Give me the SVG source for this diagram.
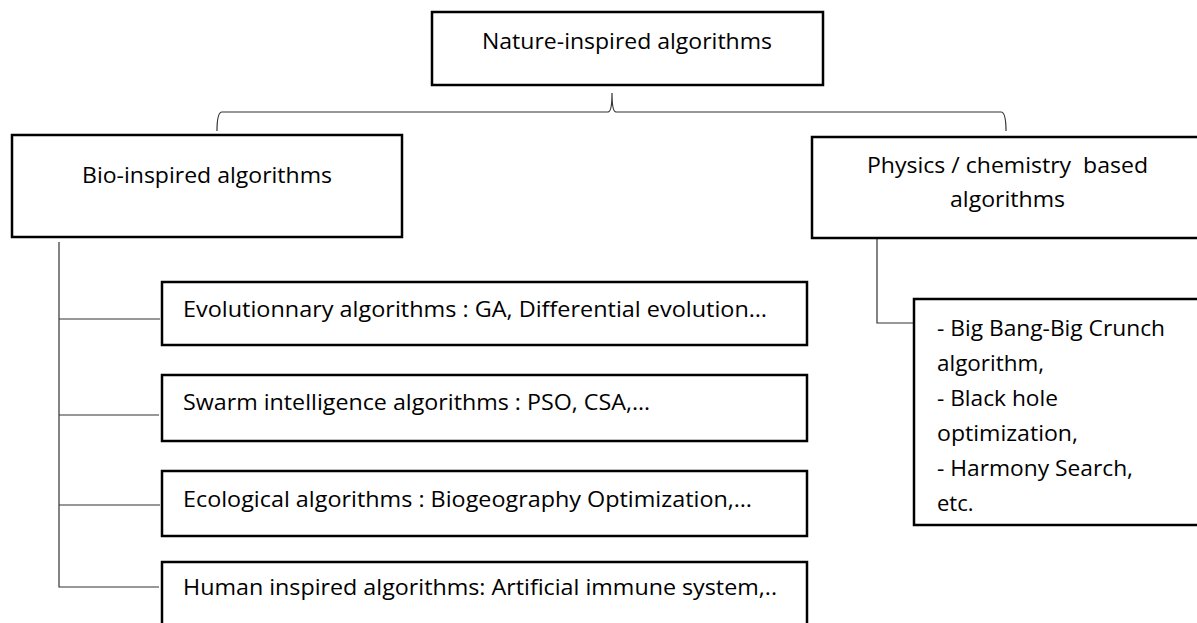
<svg xmlns="http://www.w3.org/2000/svg" width="1197" height="623" viewBox="0 0 1197 623">
<style>
.box{fill:#fff;stroke:#000;stroke-width:2.5}
.t{font-family:"Open Sans","Noto Sans","Liberation Sans",sans-serif;font-size:22px;fill:#000}
.c{fill:none;stroke:#333;stroke-width:1.2}
</style>
<rect width="1197" height="623" fill="#fff"/>
<g id="connectors">
<path class="c" d="M217,131 Q217,112 222,112 L608,112 Q612,112 612,93 Q612,112 616,112 L1001,112 Q1006,112 1006,131"/>
<path class="c" d="M59,242 L59,587 L159,587 M59,319 L160,319 M59,415 L159,415 M59,505 L160,505"/>
<path class="c" d="M877,238 L877,323 L913,323"/>
</g>
<g id="nature">
<rect class="box" x="432" y="12" width="391" height="73"/>
<text class="t" x="482" y="49" textLength="290" lengthAdjust="spacingAndGlyphs">Nature-inspired algorithms</text>
</g>
<g id="bio">
<rect class="box" x="12" y="135" width="390" height="102"/>
<text class="t" x="82" y="183" textLength="250" lengthAdjust="spacingAndGlyphs">Bio-inspired algorithms</text>
</g>
<g id="physics">
<rect class="box" x="812" y="137" width="400" height="101"/>
<text class="t" x="867" y="173" textLength="281" lengthAdjust="spacingAndGlyphs" xml:space="preserve">Physics / chemistry  based</text>
<text class="t" x="950" y="207" textLength="115" lengthAdjust="spacingAndGlyphs">algorithms</text>
</g>
<g id="evolutionary">
<rect class="box" x="162" y="282" width="645" height="63"/>
<text class="t" x="183" y="317" textLength="584" lengthAdjust="spacingAndGlyphs">Evolutionnary algorithms : GA, Differential evolution…</text>
</g>
<g id="swarm">
<rect class="box" x="162" y="375" width="645" height="66"/>
<text class="t" x="183" y="410" textLength="467" lengthAdjust="spacingAndGlyphs">Swarm intelligence algorithms : PSO, CSA,…</text>
</g>
<g id="ecological">
<rect class="box" x="162" y="471" width="645" height="65"/>
<text class="t" x="183" y="507" textLength="569" lengthAdjust="spacingAndGlyphs">Ecological algorithms : Biogeography Optimization,…</text>
</g>
<g id="human">
<rect class="box" x="162" y="562" width="645" height="70"/>
<text class="t" x="183" y="595" textLength="594" lengthAdjust="spacingAndGlyphs">Human inspired algorithms: Artificial immune system,..</text>
</g>
<g id="physics-list">
<rect class="box" x="914" y="299" width="300" height="226"/>
<text class="t" x="937" y="336" textLength="228" lengthAdjust="spacingAndGlyphs">- Big Bang-Big Crunch</text>
<text class="t" x="937" y="371" textLength="107" lengthAdjust="spacingAndGlyphs">algorithm,</text>
<text class="t" x="937" y="406" textLength="121" lengthAdjust="spacingAndGlyphs">- Black hole</text>
<text class="t" x="937" y="441" textLength="141" lengthAdjust="spacingAndGlyphs">optimization,</text>
<text class="t" x="937" y="476" textLength="196" lengthAdjust="spacingAndGlyphs">- Harmony Search,</text>
<text class="t" x="937" y="511">etc.</text>
</g>
</svg>
